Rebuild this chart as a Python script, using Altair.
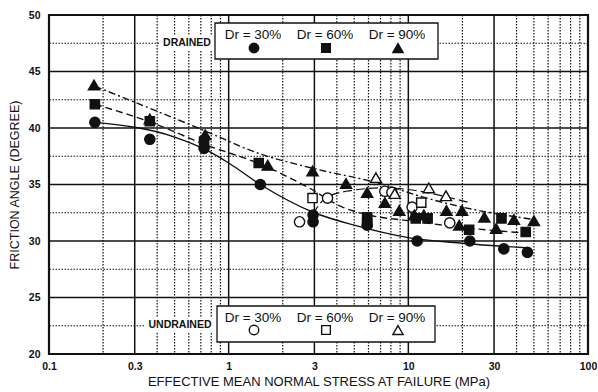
import altair as alt
import pandas as pd

# ---------------- data ----------------
# Drained, Dr = 30% (filled circles)
d30_x = [0.18, 0.364, 0.73, 1.5, 2.95, 2.95, 5.9, 11.2, 22, 34, 46]
d30_y = [40.5, 39.0, 38.2, 35.0, 32.3, 31.7, 31.4, 30.0, 30.0, 29.3, 29.0]
# Drained, Dr = 60% (filled squares)
d60_x = [0.18, 0.364, 0.73, 1.47, 5.9, 5.9, 11, 12.8, 21.8, 33, 45]
d60_y = [42.1, 40.6, 38.8, 36.9, 32.1, 31.6, 32.0, 32.0, 31.0, 32.0, 30.8]
# Drained, Dr = 90% (filled triangles)
d90_x = [0.178, 0.364, 0.74, 1.65, 2.93, 4.5, 5.9, 7.4, 8.9, 10.8, 12.2, 16.3,
         19.9, 19.2, 26.5, 30.8, 38.7, 50]
d90_y = [43.8, 40.8, 39.4, 36.7, 36.2, 35.1, 34.3, 33.4, 32.7, 32.3, 32.3, 32.7,
         32.7, 31.4, 32.1, 31.1, 31.9, 31.8]
# Undrained, Dr = 30% (open circles)
u30_x = [2.48, 3.55, 7.4, 8.1, 10.5, 17.0]
u30_y = [31.7, 33.8, 34.4, 34.3, 33.0, 31.6]
# Undrained, Dr = 60% (open squares)
u60_x = [2.93, 11.8]
u60_y = [33.8, 33.4]
# Undrained, Dr = 90% (open triangles)
u90_x = [6.6, 8.4, 13.0, 16.2]
u90_y = [35.6, 34.2, 34.7, 34.0]

# trend curves
c30_x = [0.18, 0.5, 0.74, 1.0, 1.5, 3.0, 5.0, 10, 20, 45]
c30_y = [40.5, 39.2, 38.1, 36.9, 35.0, 32.5, 31.4, 30.3, 29.8, 29.4]
c60_x = [0.18, 0.37, 0.75, 1.5, 2.8, 4.3, 6, 10, 20, 45]
c60_y = [42.1, 40.5, 38.5, 36.8, 34.7, 33.0, 32.3, 31.8, 31.2, 30.7]
c90_x = [0.18, 0.7, 1.5, 3, 6.9, 12, 20, 50]
c90_y = [43.7, 39.9, 37.7, 36.4, 35.1, 33.9, 33.0, 31.9]
cu_x = [2.95, 3.4, 4.5, 7.3, 21.8]
cu_y = [32.4, 33.7, 34.4, 34.7, 33.4]

# grid / ticks
x_ticks = [0.1, 0.3, 1, 3, 10, 30, 100]
x_major = [0.3, 1, 3, 10, 30]
x_minor = [0.2, 0.4, 0.5, 0.6, 0.7, 0.8, 0.9, 2, 4, 5, 6, 7, 8, 9,
           20, 40, 50, 60, 70, 80, 90]
y_ticks = [20, 25, 30, 35, 40, 45, 50]
y_major = [25, 30, 35, 40, 45]
y_minor = [22.5, 27.5, 32.5, 37.5, 42.5, 47.5]

legend_labels = ["Dr = 30%", "Dr = 60%", "Dr = 90%"]
legend_shapes = ["circle", "square", "triangle-up"]

# ---------------- chart ----------------
FONT = "Liberation Sans"
INK = "#111111"
xscale = alt.Scale(type="log", domain=[0.1, 100], nice=False)
yscale = alt.Scale(domain=[20, 50], nice=False, zero=False)

xaxis = alt.Axis(values=x_ticks, format="~g", grid=False, ticks=False, domain=False,
                 labelFont=FONT, labelFontSize=10.5, labelFontWeight="bold",
                 labelColor=INK, labelPadding=7, labelFlush=False,
                 title="EFFECTIVE MEAN NORMAL STRESS AT FAILURE (MPa)",
                 titleFont=FONT, titleFontSize=13, titleFontWeight="normal",
                 titleColor=INK, titlePadding=4)
yaxis = alt.Axis(values=y_ticks, grid=False, ticks=False, domain=False,
                 labelFont=FONT, labelFontSize=10.5, labelFontWeight="bold",
                 labelColor=INK, labelPadding=9, labelFlush=False,
                 title="FRICTION ANGLE (DEGREE)",
                 titleFont=FONT, titleFontSize=12.5, titleFontWeight="normal",
                 titleColor=INK, titlePadding=7)


def X(field):
    return alt.X(field, type="quantitative", scale=xscale, axis=xaxis)


def Y(field):
    return alt.Y(field, type="quantitative", scale=yscale, axis=yaxis)


vminor = alt.Chart(pd.DataFrame({"v": x_minor})).mark_rule(
    color=INK, strokeWidth=1.2, strokeDash=[1.5, 1.5]).encode(x=X("v"))
vmajor = alt.Chart(pd.DataFrame({"v": x_major})).mark_rule(
    color=INK, strokeWidth=1.5).encode(x=X("v"))
hminor = alt.Chart(pd.DataFrame({"v": y_minor})).mark_rule(
    color=INK, strokeWidth=1.2, strokeDash=[1.5, 1.5]).encode(y=Y("v"))
hmajor = alt.Chart(pd.DataFrame({"v": y_major})).mark_rule(
    color=INK, strokeWidth=1.5).encode(y=Y("v"))


def curve(xs, ys, dash=None, width=1.4):
    kw = dict(color=INK, strokeWidth=width, interpolate="monotone")
    if dash:
        kw["strokeDash"] = dash
    return alt.Chart(pd.DataFrame({"x": xs, "y": ys})).mark_line(**kw).encode(
        x=X("x"), y=Y("y"))


def pts(xs, ys, shape, filled, size):
    return alt.Chart(pd.DataFrame({"x": xs, "y": ys})).mark_point(
        shape=shape, filled=True, fill=INK if filled else "white",
        stroke=INK, strokeWidth=1.4, size=size, opacity=1).encode(
        x=X("x"), y=Y("y"))


lines = [
    curve(c30_x, c30_y),
    curve(c60_x, c60_y, dash=[7, 4]),
    curve(c90_x, c90_y, dash=[7, 3, 2, 3]),
    curve(cu_x, cu_y, dash=[9, 4], width=1.2),
]

points = [
    pts(u30_x, u30_y, "circle", False, 105),
    pts(u60_x, u60_y, "square", False, 85),
    pts(u90_x, u90_y, "triangle-up", False, 125),
    pts(d30_x, d30_y, "circle", True, 105),
    pts(d60_x, d60_y, "square", True, 85),
    pts(d90_x, d90_y, "triangle-up", True, 125),
]

# ---------------- legend boxes (pixel positions inside plot area) ----------------
def box(x1, x2, y1, y2, stroke=True):
    return alt.Chart(pd.DataFrame({"a": [0]})).mark_rect(
        fill="white", stroke=INK if stroke else None,
        strokeWidth=1.3 if stroke else 0).encode(
        x=alt.value(x1), x2=alt.value(x2), y=alt.value(y1), y2=alt.value(y2))


def label(txt, x, y, size, weight="normal"):
    return alt.Chart(pd.DataFrame({"t": [txt]})).mark_text(
        font=FONT, fontSize=size, fontWeight=weight, color=INK,
        align="center", baseline="middle").encode(
        text="t:N", x=alt.value(x), y=alt.value(y))


def sym(shape, filled, x, y, size):
    return alt.Chart(pd.DataFrame({"a": [0]})).mark_point(
        shape=shape, filled=True, fill=INK if filled else "white",
        stroke=INK, strokeWidth=1.4, size=size, opacity=1).encode(
        x=alt.value(x), y=alt.value(y))


legend = []
# drained
legend.append(box(110, 165, 21, 35, stroke=False))
legend.append(label("DRAINED", 138, 28, 10.5, "bold"))
legend.append(box(166, 389, 8, 44))
# undrained
legend.append(box(95, 167, 302, 318, stroke=False))
legend.append(label("UNDRAINED", 131, 310, 10.5, "bold"))
legend.append(box(168, 386, 291, 327))
lx = [204, 276, 348]
sizes = [90, 75, 105]
for i in range(3):
    legend.append(label(legend_labels[i], lx[i], 20, 13.5))
    legend.append(sym(legend_shapes[i], True, lx[i] + 1, 33, sizes[i]))
    legend.append(label(legend_labels[i], lx[i], 303, 13.5))
    legend.append(sym(legend_shapes[i], False, lx[i] + 1, 315, sizes[i]))

chart = alt.layer(vminor, hminor, vmajor, hmajor, *lines, *points, *legend).properties(
    width=539, height=339,
    autosize=alt.AutoSizeParams(type="none"),
    padding={"left": 49, "top": 15, "right": 10, "bottom": 38},
    background="white",
).configure_view(stroke=INK, strokeWidth=2.2)

chart.save("out.html", embed_options={"renderer": "svg", "actions": False})
